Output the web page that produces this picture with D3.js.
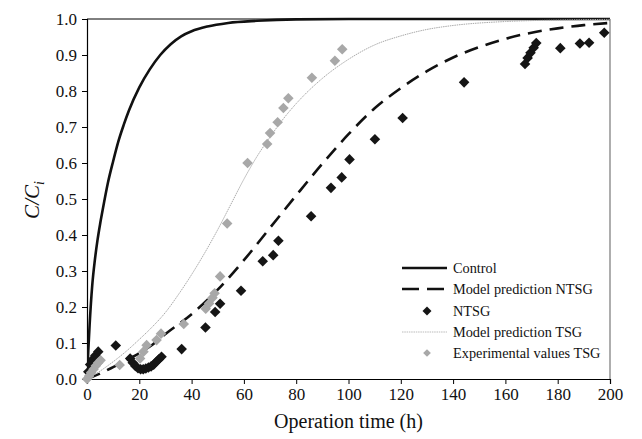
<!DOCTYPE html>
<html><head><meta charset="utf-8">
<script src="https://cdn.jsdelivr.net/npm/d3@7"></script>
<style>body{margin:0;background:#fff}svg{display:block}text{font-family:"Liberation Serif","Times New Roman",serif}</style>
</head><body>
<svg id="c" width="642" height="439"></svg>
<script>
// ---- data ----
const xTicks = [0,20,40,60,80,100,120,140,160,180,200];
const yTicks = [0,0.1,0.2,0.3,0.4,0.5,0.6,0.7,0.8,0.9,1.0];
const legendLabels = ["Control","Model prediction NTSG","NTSG","Model prediction TSG","Experimental values TSG"];

const controlT = [0,0.5,1,2,3,4,5,6,8,10,12,14,16,20,24,28,32,36,40,46,54,65,80,100,150,200];
const controlV = [0,0.08,0.15,0.26,0.33,0.385,0.43,0.47,0.545,0.605,0.66,0.705,0.745,0.81,0.86,0.9,0.93,0.952,0.966,0.979,0.989,0.995,0.999,1,1,1];

const ntsgModelT = [0,5,10,15,20,25,30,40,50,60,70,80,90,100,110,120,130,140,150,160,170,180,190,200];
const ntsgModelV = [0,0.015,0.033,0.052,0.072,0.095,0.125,0.18,0.248,0.33,0.42,0.51,0.598,0.68,0.752,0.808,0.855,0.893,0.922,0.945,0.962,0.974,0.983,0.989];

const ntsgT = [0.5,1.2,2.2,3.2,4.3,11,16.5,17.5,18.5,19.5,20.5,21.5,22.5,23.5,24.5,25.5,26.5,27.5,28.5,36.2,45.3,49,50.9,58.9,67.2,71.2,73.2,85.7,93.3,97.4,100.4,110.1,120.7,144.2,167.5,168.5,169.6,170.8,171.8,181,188.5,192,197.8];
const ntsgV = [0.02,0.04,0.055,0.065,0.076,0.093,0.057,0.045,0.036,0.03,0.027,0.027,0.029,0.032,0.035,0.04,0.048,0.055,0.062,0.083,0.143,0.186,0.209,0.245,0.327,0.344,0.384,0.452,0.531,0.56,0.61,0.666,0.725,0.824,0.875,0.892,0.906,0.92,0.933,0.919,0.932,0.934,0.962];

const tsgModelT = [0,5,10,15,20,25,30,35,40,45,50,55,60,65,70,75,80,90,100,110,120,130,140,160,180,200];
const tsgModelV = [0,0.022,0.048,0.077,0.11,0.145,0.185,0.235,0.29,0.35,0.415,0.485,0.555,0.618,0.672,0.722,0.765,0.835,0.888,0.928,0.953,0.971,0.982,0.993,0.997,0.999];

const tsgT = [0,0.8,1.6,2.5,3.4,4.3,5.2,12.5,20.3,21.6,22.8,26.6,28.3,37,45.4,46.7,48,48.8,50.9,53.6,61.4,68.9,70,72.9,75.1,77,86,94.8,97.6];
const tsgV = [0,0.008,0.018,0.027,0.037,0.045,0.052,0.039,0.057,0.076,0.094,0.108,0.126,0.153,0.195,0.21,0.226,0.238,0.285,0.432,0.6,0.653,0.683,0.713,0.753,0.78,0.837,0.884,0.916];

// ---- layout ----
const L=87, R=610, T=19, B=379;
const svg = d3.select("#c");
const x = d3.scaleLinear().domain([0,200]).range([L,R]);
const y = d3.scaleLinear().domain([0,1]).range([B,T]);

const zip = (a,b)=>a.map((t,i)=>[t,b[i]]);
const line = d3.line().x(d=>x(d[0])).y(d=>y(d[1])).curve(d3.curveMonotoneX);
const diamond = d3.symbol().type(d3.symbolSquare).size(56);

svg.append("clipPath").attr("id","pc").append("rect")
  .attr("x",L).attr("y",T-3).attr("width",R-L).attr("height",B-T+3);

// frame
svg.append("line").attr("x1",L).attr("x2",R).attr("y1",T).attr("y2",T).attr("stroke","#000").attr("stroke-width",1);
svg.append("line").attr("x1",R).attr("x2",R).attr("y1",T).attr("y2",B).attr("stroke","#777").attr("stroke-width",1.2);

// axes
const xa = svg.append("g").attr("transform",`translate(0,${B})`)
  .call(d3.axisBottom(x).tickValues(xTicks).tickSize(5).tickPadding(4).tickFormat(d3.format("d")));
const ya = svg.append("g").attr("transform",`translate(${L},0)`)
  .call(d3.axisLeft(y).tickValues(yTicks).tickSize(5).tickPadding(5).tickFormat(d3.format(".1f")));
[xa,ya].forEach(g=>{
  g.select(".domain").attr("stroke","#000").attr("stroke-width",1.2);
  g.selectAll(".tick line").attr("stroke","#000");
  g.selectAll("text").attr("font-size",17).attr("fill","#111").style("font-family",'"Liberation Serif",serif');
});

const plot = svg.append("g").attr("clip-path","url(#pc)");
// series
plot.append("path").datum(zip(controlT,controlV)).attr("d",line)
  .attr("fill","none").attr("stroke","#111").attr("stroke-width",2.6);
plot.append("path").datum(zip(ntsgModelT,ntsgModelV)).attr("d",line)
  .attr("fill","none").attr("stroke","#111").attr("stroke-width",2.6).attr("stroke-dasharray","14,8");
svg.append("g").selectAll("path").data(zip(ntsgT,ntsgV)).join("path")
  .attr("d",diamond).attr("transform",d=>`translate(${x(d[0])},${y(d[1])}) rotate(45)`).attr("fill","#151515");
plot.append("path").datum(zip(tsgModelT,tsgModelV)).attr("d",line)
  .attr("fill","none").attr("stroke","#aaa").attr("stroke-width",1).attr("stroke-dasharray","1.5,0.8");
svg.append("g").selectAll("path").data(zip(tsgT,tsgV)).join("path")
  .attr("d",diamond).attr("transform",d=>`translate(${x(d[0])},${y(d[1])}) rotate(45)`).attr("fill","#a8a8a8");

// legend
const lg = svg.append("g");
const rowY = [268,289,311,332,353];
legendLabels.forEach((lab,i)=>{
  const yy=rowY[i];
  if(i===0) lg.append("line").attr("x1",402).attr("x2",447).attr("y1",yy).attr("y2",yy).attr("stroke","#111").attr("stroke-width",2.4);
  if(i===1) lg.append("line").attr("x1",402).attr("x2",447).attr("y1",yy).attr("y2",yy).attr("stroke","#111").attr("stroke-width",2.4).attr("stroke-dasharray","17,8");
  if(i===2) lg.append("path").attr("d",d3.symbol().type(d3.symbolSquare).size(40)).attr("transform",`translate(427,${yy}) rotate(45)`).attr("fill","#151515");
  if(i===3) lg.append("line").attr("x1",402).attr("x2",447).attr("y1",yy).attr("y2",yy).attr("stroke","#bbb").attr("stroke-width",1).attr("stroke-dasharray","1.5,0.8");
  if(i===4) lg.append("path").attr("d",d3.symbol().type(d3.symbolSquare).size(30)).attr("transform",`translate(427,${yy}) rotate(45)`).attr("fill","#a8a8a8");
  lg.append("text").attr("x",453).attr("y",yy).attr("dy","0.35em").attr("font-size",14.3).attr("fill","#111").text(lab);
});

// axis titles
svg.append("text").attr("x",(L+R)/2).attr("y",428).attr("text-anchor","middle").attr("font-size",20).attr("fill","#111").text("Operation time (h)");
const yt = svg.append("text").attr("transform","translate(39,200) rotate(-90)").attr("text-anchor","middle").attr("font-size",21).attr("fill","#111").attr("font-style","italic");
yt.append("tspan").text("C/C");
yt.append("tspan").attr("font-size",14).attr("dy",5).text("i");
</script>
</body></html>
